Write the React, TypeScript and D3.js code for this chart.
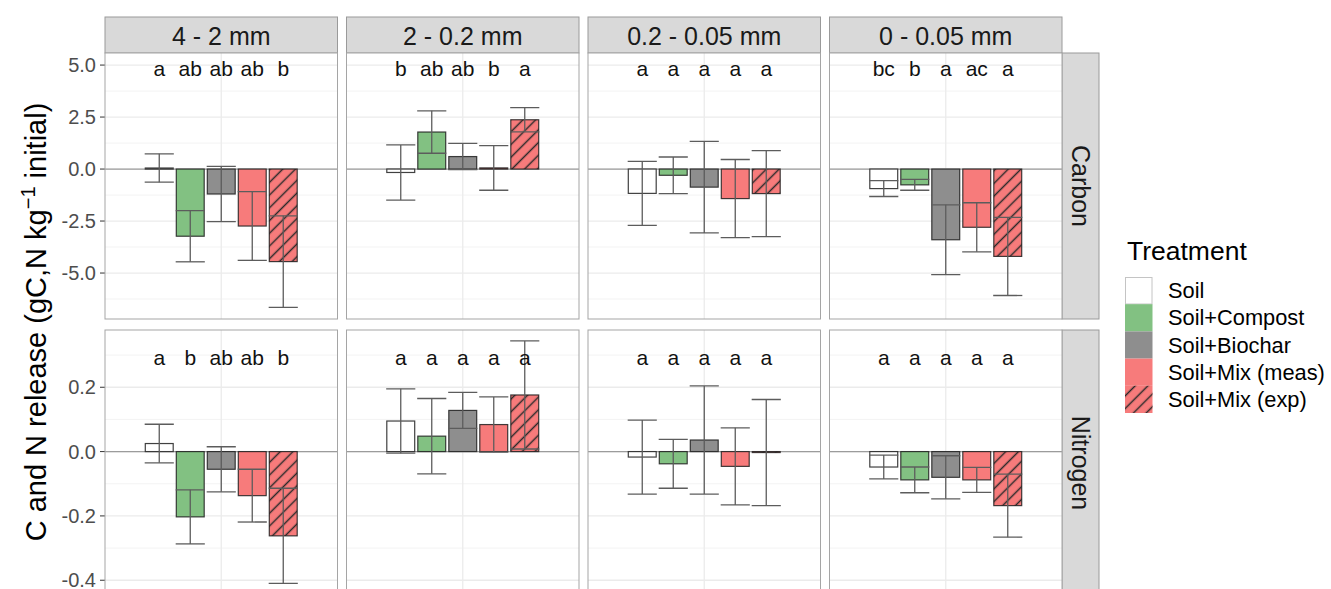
import React from "react";
import * as d3 from "d3";

const treatments = ["Soil", "Soil+Compost", "Soil+Biochar", "Soil+Mix (meas)", "Soil+Mix (exp)"];
const sizeClasses = ["4 - 2 mm", "2 - 0.2 mm", "0.2 - 0.05 mm", "0 - 0.05 mm"];
const elements = ["Carbon", "Nitrogen"];

const carbonMean = [
  [0.05, -3.23, -1.2, -2.74, -4.45],
  [-0.165, 1.78, 0.6, 0.055, 2.37],
  [-1.17, -0.3, -0.87, -1.42, -1.18],
  [-0.94, -0.76, -3.4, -2.8, -4.2],
];
const carbonSd = [
  [0.68, 1.23, 1.33, 1.65, 2.2],
  [1.325, 1.02, 0.63, 1.075, 0.58],
  [1.54, 0.88, 2.2, 1.88, 2.07],
  [0.38, 0.26, 1.68, 1.18, 1.88],
];
const nitrogenMean = [
  [0.025, -0.203, -0.055, -0.137, -0.262],
  [0.095, 0.048, 0.128, 0.084, 0.176],
  [-0.017, -0.038, 0.036, -0.046, -0.003],
  [-0.048, -0.088, -0.08, -0.088, -0.168],
];
const nitrogenSd = [
  [0.06, 0.084, 0.07, 0.082, 0.148],
  [0.1, 0.117, 0.056, 0.086, 0.168],
  [0.115, 0.076, 0.168, 0.12, 0.165],
  [0.037, 0.04, 0.067, 0.039, 0.098],
];
const carbonLetters = [
  ["a", "ab", "ab", "ab", "b"],
  ["b", "ab", "ab", "b", "a"],
  ["a", "a", "a", "a", "a"],
  ["bc", "b", "a", "ac", "a"],
];
const nitrogenLetters = [
  ["a", "b", "ab", "ab", "b"],
  ["a", "a", "a", "a", "a"],
  ["a", "a", "a", "a", "a"],
  ["a", "a", "a", "a", "a"],
];
const carbonTicks = [-5, -2.5, 0, 2.5, 5];
const carbonMinor = [-6.25, -3.75, -1.25, 1.25, 3.75];
const nitrogenTicks = [-0.4, -0.2, 0, 0.2];
const nitrogenMinor = [-0.3, -0.1, 0.1, 0.3];

const fills = ["#FFFFFF", "#82C182", "#8E8E8E", "#F77B7B", "#F77B7B"];
const hatched = [false, false, false, false, true];

const FONT = "'Liberation Sans', Arial, Helvetica, sans-serif";

const panelX0 = 105;
const panelW = 232.5;
const panelGap = 9;
const stripTop = 17;
const stripH = 36;
const rowTops = [53, 330];
const panelH = 266;
const rightStripW = 37;

const rows = [
  {
    name: elements[0],
    mean: carbonMean,
    sd: carbonSd,
    letters: carbonLetters,
    ticks: carbonTicks,
    minor: carbonMinor,
    domain: [-7.21, 5.58],
    letterY: 4.78,
  },
  {
    name: elements[1],
    mean: nitrogenMean,
    sd: nitrogenSd,
    letters: nitrogenLetters,
    ticks: nitrogenTicks,
    minor: nitrogenMinor,
    domain: [-0.449, 0.378],
    letterY: 0.29,
  },
];

const locale = d3.formatLocale({ decimal: ".", thousands: ",", grouping: [3], currency: ["", ""], minus: "-" });
const fmt = locale.format(".1f");

export default function App() {
  const W = 1331;
  const H = 589;
  return (
    <svg
      width={W}
      height={H}
      style={{ position: "absolute", left: 0, top: 0, background: "#fff" }}
      fontFamily={FONT}
    >
      <defs>
        <pattern id="hatch" patternUnits="userSpaceOnUse" width={9} height={9} patternTransform="rotate(45)">
          <line x1={4.5} y1={0} x2={4.5} y2={9} stroke="#2a2a2a" strokeWidth={1.5} />
        </pattern>
        {sizeClasses.map((_, ci) =>
          rowTops.map((rt, ri) => (
            <clipPath id={`clip-${ci}-${ri}`} key={`${ci}-${ri}`}>
              <rect x={panelX0 + ci * (panelW + panelGap)} y={rt} width={panelW} height={panelH} />
            </clipPath>
          ))
        )}
      </defs>
      <rect x={0} y={0} width={W} height={H} fill="#fff" />

      {/* column strips */}
      {sizeClasses.map((s, ci) => {
        const x0 = panelX0 + ci * (panelW + panelGap);
        return (
          <g key={s}>
            <rect x={x0} y={stripTop} width={panelW} height={stripH} fill="#D9D9D9" stroke="#9a9a9a" strokeWidth={1} />
            <text x={x0 + panelW / 2} y={stripTop + 27.5} textAnchor="middle" fontSize={25} fill="#1A1A1A">
              {s}
            </text>
          </g>
        );
      })}

      {rows.map((row, ri) => {
        const top = rowTops[ri];
        const y = d3.scaleLinear().domain(row.domain).range([top + panelH, top]);
        const rightX = panelX0 + 4 * panelW + 3 * panelGap;
        return (
          <g key={row.name}>
            {/* y axis */}
            {row.ticks.map((t) => (
              <g key={t}>
                <line x1={100} x2={panelX0} y1={y(t)} y2={y(t)} stroke="#333" strokeWidth={1} />
                <text x={96} y={y(t) + 7} textAnchor="end" fontSize={20} fill="#4D4D4D">
                  {fmt(t)}
                </text>
              </g>
            ))}
            {/* right strip */}
            <rect x={rightX} y={top} width={rightStripW} height={panelH} fill="#D9D9D9" stroke="#9a9a9a" strokeWidth={1} />
            <text
              transform={`translate(${rightX + rightStripW / 2 - 9},${top + panelH / 2}) rotate(90)`}
              textAnchor="middle"
              fontSize={25}
              fill="#1A1A1A"
            >
              {row.name}
            </text>

            {sizeClasses.map((s, ci) => {
              const x0 = panelX0 + ci * (panelW + panelGap);
              const x = d3.scaleLinear().domain([0.4, 1.6]).range([x0, x0 + panelW]);
              const band = d3
                .scaleBand<string>()
                .domain(treatments)
                .range([x(0.6), x(1.4)])
                .paddingInner(0.1)
                .paddingOuter(0.05);
              const bw = band.bandwidth();
              const slot = band.step();
              return (
                <g key={s} clipPath={`url(#clip-${ci}-${ri})`}>
                  <rect x={x0} y={top} width={panelW} height={panelH} fill="#fff" />
                  {row.minor.map((t) => (
                    <line key={`m${t}`} x1={x0} x2={x0 + panelW} y1={y(t)} y2={y(t)} stroke="#F3F3F3" strokeWidth={1} />
                  ))}
                  {row.ticks.map((t) => (
                    <line key={`M${t}`} x1={x0} x2={x0 + panelW} y1={y(t)} y2={y(t)} stroke="#EBEBEB" strokeWidth={1.3} />
                  ))}
                  <line x1={x(1)} x2={x(1)} y1={top} y2={top + panelH} stroke="#EBEBEB" strokeWidth={1.3} />
                  <line x1={x0} x2={x0 + panelW} y1={y(0)} y2={y(0)} stroke="#9C9C9C" strokeWidth={1.3} />
                  {treatments.map((tr, ti) => {
                    const m = row.mean[ci][ti];
                    const bx = band(tr)!;
                    const y1 = Math.min(y(0), y(m));
                    const h = Math.abs(y(0) - y(m));
                    return (
                      <g key={tr}>
                        <rect x={bx} y={y1} width={bw} height={h} fill={fills[ti]} />
                        {hatched[ti] && <rect x={bx} y={y1} width={bw} height={h} fill="url(#hatch)" />}
                        <rect x={bx} y={y1} width={bw} height={h} fill="none" stroke="#1e1e1e" strokeWidth={1.2} opacity={0.85} />
                      </g>
                    );
                  })}
                  {treatments.map((tr, ti) => {
                    const m = row.mean[ci][ti];
                    const sd = row.sd[ci][ti];
                    const cx = band(tr)! + bw / 2;
                    const hw = slot * 0.47;
                    return (
                      <g key={`e${tr}`} stroke="#5C5C5C" strokeWidth={1.3}>
                        <line x1={cx} x2={cx} y1={y(m + sd)} y2={y(m - sd)} />
                        <line x1={cx - hw} x2={cx + hw} y1={y(m + sd)} y2={y(m + sd)} />
                        <line x1={cx - hw} x2={cx + hw} y1={y(m - sd)} y2={y(m - sd)} />
                      </g>
                    );
                  })}
                  {treatments.map((tr, ti) => (
                    <text
                      key={`l${tr}`}
                      x={band(tr)! + bw / 2}
                      y={y(row.letterY) + 6.5}
                      textAnchor="middle"
                      fontSize={21}
                      fill="#111"
                    >
                      {row.letters[ci][ti]}
                    </text>
                  ))}
                </g>
              );
            })}
            {sizeClasses.map((s, ci) => {
              const x0 = panelX0 + ci * (panelW + panelGap);
              return <rect key={`b${s}`} x={x0} y={top} width={panelW} height={panelH} fill="none" stroke="#a5a5a5" strokeWidth={1} />;
            })}
          </g>
        );
      })}

      {/* y axis title */}
      <text transform="translate(46,322) rotate(-90)" textAnchor="middle" fontSize={29} fill="#000">
        C and N release (gC,N kg
        <tspan dy={-11} fontSize={20}>−1</tspan>
        <tspan dy={11}> initial)</tspan>
      </text>

      {/* legend */}
      <text x={1127} y={260} fontSize={26.5} fill="#000">
        Treatment
      </text>
      {treatments.map((tr, ti) => {
        const ky = 277 + ti * 27.2;
        return (
          <g key={`lg${tr}`}>
            <rect x={1125} y={ky} width={27.5} height={27.2} fill={fills[ti]} />
            {hatched[ti] && <rect x={1125} y={ky} width={27.5} height={27.2} fill="url(#hatch)" />}
            {ti === 0 && <rect x={1125.5} y={ky + 0.5} width={26.5} height={26.5} fill="none" stroke="#c4c4c4" strokeWidth={1} />}
            <text x={1168} y={ky + 13.6 + 7.5} fontSize={21.8} fill="#000">
              {tr}
            </text>
          </g>
        );
      })}
    </svg>
  );
}
